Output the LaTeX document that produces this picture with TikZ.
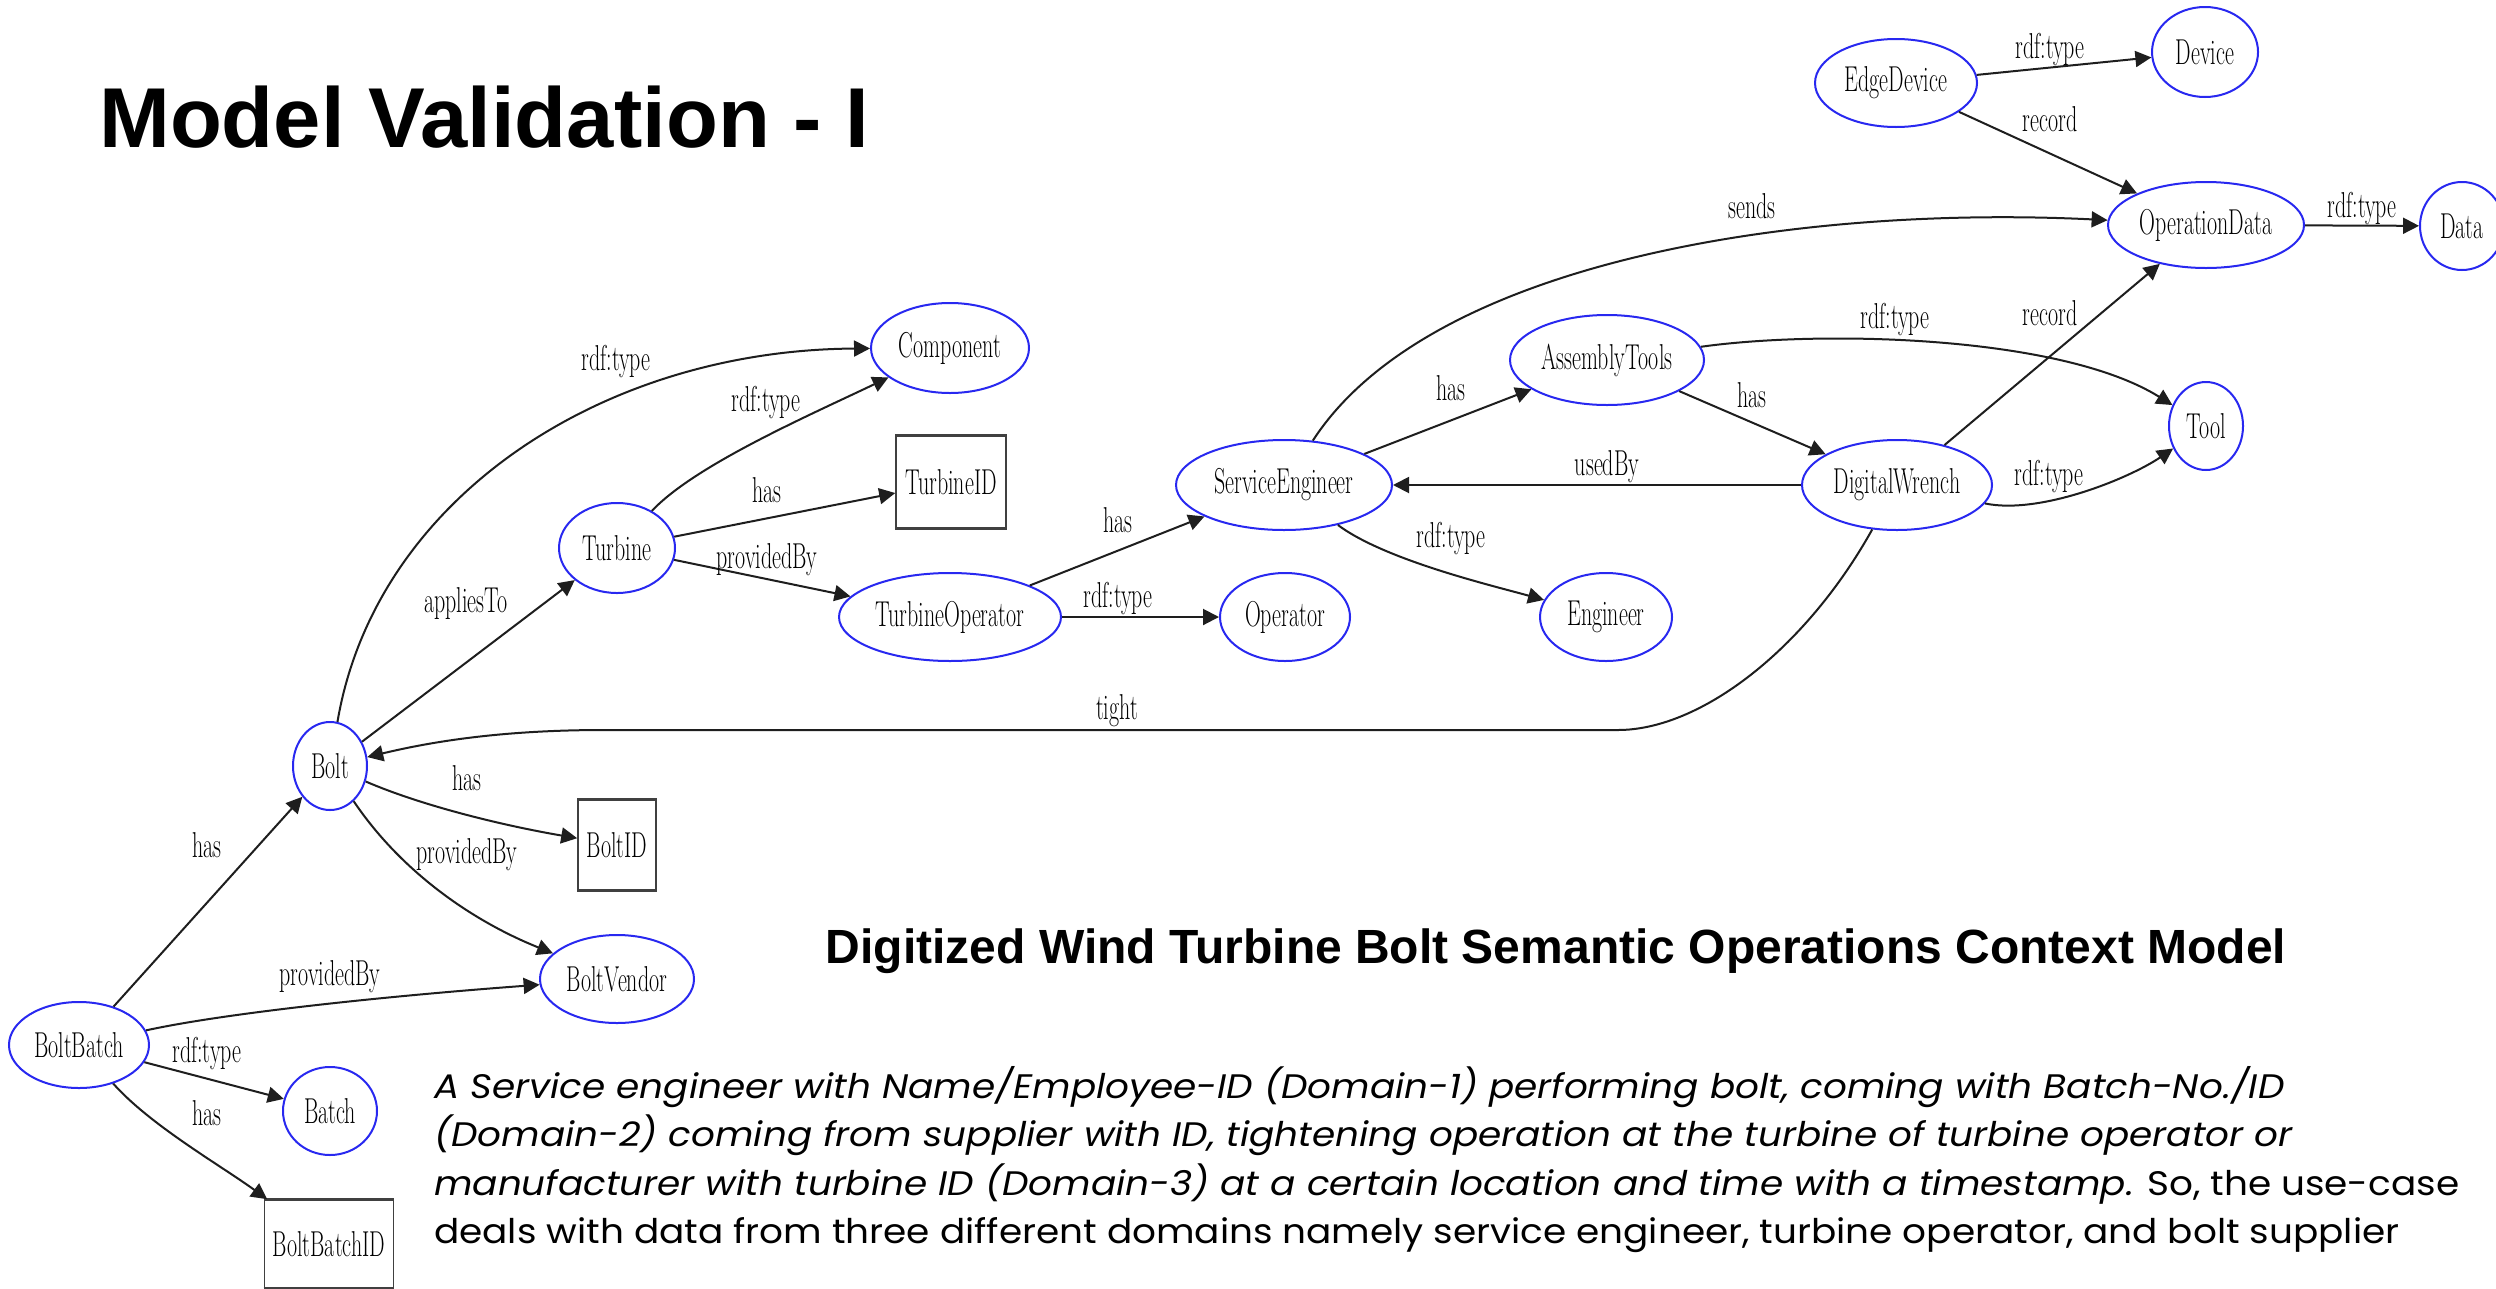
\documentclass[tikz,border=0pt]{standalone}
\usepackage{fontspec}
\usepackage{graphicx}
\usetikzlibrary{shapes.geometric,arrows.meta}
\newfontfamily\headfont{Liberation Sans}
\newfontfamily\bodyfont[FakeStretch=1.1]{Poppins}
\definecolor{nodeblue}{RGB}{40,40,240}
\definecolor{edgeink}{RGB}{30,30,30}
% graph labels are set in a horizontally condensed serif
\newcommand{\cond}[1]{\scalebox{0.61}[1]{#1}}

\tikzset{
  cls/.style={ellipse, draw=nodeblue, line width=2pt, inner sep=0pt,
    font=\fontsize{36}{36}\selectfont},
  lit/.style={rectangle, draw=black!75, line width=1.6pt, inner sep=0pt,
    font=\fontsize{36}{36}\selectfont},
  rel/.style={draw=edgeink, line width=2pt, -{Triangle[length=16pt,width=16pt]}},
  lbl/.style={anchor=base, inner sep=0pt, font=\fontsize{36}{36}\selectfont},
  para/.style={anchor=base west, inner sep=0pt, font=\bodyfont\fontsize{34}{34}\selectfont},
}

\begin{document}
\begin{tikzpicture}[x=1pt,y=1pt]
\useasboundingbox (0,0) rectangle (2496,-1288);
\fill[white] (0,0) rectangle (2496,-1288);
\clip (0,0) rectangle (2496,-1288);

% headings
\node[anchor=base west, inner sep=0pt, font=\headfont\bfseries\fontsize{85}{85}\selectfont]
  (title) at (99,-147) {Model Validation - I};
\node[anchor=base, inner sep=0pt, font=\headfont\bfseries\fontsize{48}{48}\selectfont]
  (subtitle) at (1556,-963) {Digitized Wind Turbine Bolt Semantic Operations Context Model};

% class and instance nodes
\node[cls, minimum width=162pt, minimum height=88pt] (EdgeDevice) at (1896,-83) {\cond{EdgeDevice}};
\node[cls, minimum width=106pt, minimum height=90pt] (Device) at (2205,-52) {\cond{Device}};
\node[cls, minimum width=196pt, minimum height=86pt] (OperationData) at (2206,-225) {\cond{OperationData}};
\node[cls, minimum width=84pt, minimum height=88pt] (Data) at (2462,-226) {\cond{Data}};
\node[cls, minimum width=158pt, minimum height=90pt] (Component) at (950,-348) {\cond{Component}};
\node[cls, minimum width=116pt, minimum height=90pt] (Turbine) at (617,-548) {\cond{Turbine}};
\node[lit, minimum width=110pt, minimum height=91pt] (TurbineID) at (951,-482) {\cond{TurbineID}};
\node[cls, minimum width=222pt, minimum height=88pt] (TurbineOperator) at (950,-617) {\cond{TurbineOperator}};
\node[cls, minimum width=130pt, minimum height=88pt] (Operator) at (1285,-617) {\cond{Operator}};
\node[cls, minimum width=216pt, minimum height=90pt] (ServiceEngineer) at (1284,-485) {\cond{ServiceEngineer}};
\node[cls, minimum width=194pt, minimum height=90pt] (AssemblyTools) at (1607,-360) {\cond{AssemblyTools}};
\node[cls, minimum width=190pt, minimum height=90pt] (DigitalWrench) at (1897,-485) {\cond{DigitalWrench}};
\node[cls, minimum width=132pt, minimum height=88pt] (Engineer) at (1606,-617) {\cond{Engineer}};
\node[cls, minimum width=74pt, minimum height=88pt] (Tool) at (2206,-426) {\cond{Tool}};
\node[cls, minimum width=74pt, minimum height=88pt] (Bolt) at (330,-766) {\cond{Bolt}};
\node[lit, minimum width=78pt, minimum height=89pt] (BoltID) at (617,-845) {\cond{BoltID}};
\node[cls, minimum width=154pt, minimum height=88pt] (BoltVendor) at (617,-979) {\cond{BoltVendor}};
\node[cls, minimum width=140pt, minimum height=86pt] (BoltBatch) at (79,-1045) {\cond{BoltBatch}};
\node[cls, minimum width=94pt, minimum height=88pt] (Batch) at (330,-1111) {\cond{Batch}};
\node[lit, minimum width=129pt, minimum height=88pt] (BoltBatchID) at (329,-1244) {\cond{BoltBatchID}};

% heavier horizontal rules on the literal boxes
\foreach \b in {TurbineID,BoltID,BoltBatchID}{
  \draw[black!75, line width=3pt] (\b.north west) -- (\b.north east);
  \draw[black!75, line width=3pt] (\b.south west) -- (\b.south east);
}

% relations
\draw[rel] (EdgeDevice) -- (Device);
\draw[rel] (EdgeDevice) -- (OperationData);
\draw[rel] (OperationData) -- (Data);
\draw[rel] (ServiceEngineer) .. controls (1430,-260) and (1800,-205) .. (OperationData);
\draw[rel] (DigitalWrench) -- (OperationData);
\draw[rel] (AssemblyTools) .. controls (1820,-330) and (2060,-335) .. (Tool);
\draw[rel] (ServiceEngineer) -- (AssemblyTools);
\draw[rel] (AssemblyTools) -- (DigitalWrench);
\draw[rel] (DigitalWrench) -- (ServiceEngineer);
\draw[rel] (DigitalWrench) .. controls (2040,-515) and (2130,-478) .. (Tool);
\draw[rel] (ServiceEngineer) .. controls (1385,-560) and (1490,-585) .. (Engineer);
\draw[rel] (TurbineOperator) -- (ServiceEngineer);
\draw[rel] (TurbineOperator) -- (Operator);
\draw[rel] (Turbine) .. controls (695,-465) and (810,-415) .. (Component);
\draw[rel] (Turbine) -- (TurbineID);
\draw[rel] (Turbine) -- (TurbineOperator);
\draw[rel] (Bolt) .. controls (375,-500) and (600,-350) .. (Component);
\draw[rel] (Bolt) -- (Turbine);
\draw[rel] (DigitalWrench) .. controls (1805,-650) and (1700,-730) .. (1618,-730)
  -- (604,-730) .. controls (500,-730) and (430,-742) .. (Bolt);
\draw[rel] (Bolt) .. controls (420,-805) and (500,-825) .. (BoltID);
\draw[rel] (Bolt) .. controls (400,-870) and (470,-920) .. (BoltVendor);
\draw[rel] (BoltBatch) -- (Bolt);
\draw[rel] (BoltBatch) .. controls (230,-1012) and (400,-995) .. (BoltVendor);
\draw[rel] (BoltBatch) -- (Batch);
\draw[rel] (BoltBatch) .. controls (150,-1125) and (220,-1165) .. (BoltBatchID);

% relation labels
\node[lbl] (l1) at (2050,-58) {\cond{rdf:type}};
\node[lbl] (l2) at (2050,-131) {\cond{record}};
\node[lbl] (l3) at (2362,-217) {\cond{rdf:type}};
\node[lbl] (l4) at (1752,-218) {\cond{sends}};
\node[lbl] (l5) at (2050,-325) {\cond{record}};
\node[lbl] (l6) at (1895,-328) {\cond{rdf:type}};
\node[lbl] (l7) at (1451,-400) {\cond{has}};
\node[lbl] (l8) at (1752,-407) {\cond{has}};
\node[lbl] (l9) at (1607,-475) {\cond{usedBy}};
\node[lbl] (l10) at (2049,-485) {\cond{rdf:type}};
\node[lbl] (l11) at (1451,-547) {\cond{rdf:type}};
\node[lbl] (l12) at (616,-370) {\cond{rdf:type}};
\node[lbl] (l13) at (766,-411) {\cond{rdf:type}};
\node[lbl] (l14) at (767,-502) {\cond{has}};
\node[lbl] (l15) at (767,-568) {\cond{providedBy}};
\node[lbl] (l16) at (1118,-532) {\cond{has}};
\node[lbl] (l17) at (1118,-607) {\cond{rdf:type}};
\node[lbl] (l18) at (466,-612) {\cond{appliesTo}};
\node[lbl] (l19) at (1117,-719) {\cond{tight}};
\node[lbl] (l20) at (467,-790) {\cond{has}};
\node[lbl] (l21) at (467,-863) {\cond{providedBy}};
\node[lbl] (l22) at (330,-985) {\cond{providedBy}};
\node[lbl] (l23) at (207,-1062) {\cond{rdf:type}};
\node[lbl] (l24) at (207,-1125) {\cond{has}};
\node[lbl] (l25) at (207,-857) {\cond{has}};

% use-case description
\node[para] (p1) at (434,-1098) {\itshape A Service engineer with Name/Employee-ID (Domain-1) performing bolt, coming with Batch-No./ID};
\node[para] (p2) at (434,-1146) {\itshape (Domain-2) coming from supplier with ID, tightening operation at the turbine of turbine operator or};
\node[para] (p3) at (434,-1195) {{\itshape manufacturer with turbine ID (Domain-3) at a certain location and time with a timestamp.} So, the use-case};
\node[para] (p4) at (434,-1243) {deals with data from three different domains namely service engineer, turbine operator, and bolt supplier};
\end{tikzpicture}
\end{document}
